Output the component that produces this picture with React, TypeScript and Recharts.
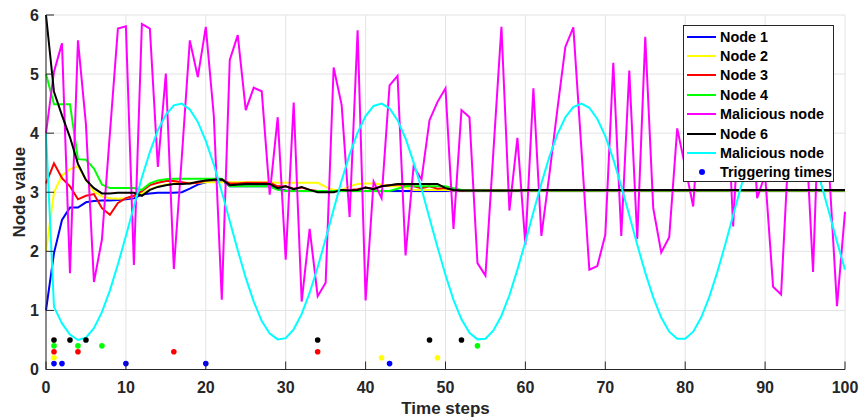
import React from "react";

//recharts
import {
  ComposedChart,
  Line,
  Scatter,
  XAxis,
  YAxis,
  CartesianGrid,
  Legend,
} from "recharts";

//data
const steps = Array.from({ length: 101 }, (_, i) => i);

const node1 = [
  1.0, 1.97, 2.53, 2.74, 2.74, 2.83, 2.85, 2.86, 2.86, 2.87,
  2.88, 2.9, 2.96, 2.98, 2.99, 2.99, 2.99, 3.0, 3.06, 3.13,
  3.17, 3.19, 3.2, 3.1, 3.1, 3.1, 3.1, 3.1, 3.1, 3.05,
  3.03, 3.02, 3.02, 3.02, 3.02, 3.02, 3.02, 3.02, 3.02, 3.02,
  3.02, 3.02, 3.02, 3.02, 3.02, 3.02, 3.02, 3.02, 3.02, 3.02,
  3.02, 3.02, 3.02, 3.02, 3.02, 3.02, 3.02, 3.02, 3.02, 3.02,
  3.02, 3.02, 3.02, 3.02, 3.02, 3.02, 3.02, 3.02, 3.02, 3.02,
  3.02, 3.02, 3.02, 3.02, 3.02, 3.02, 3.02, 3.02, 3.02, 3.02,
  3.02, 3.02, 3.02, 3.02, 3.02, 3.02, 3.02, 3.02, 3.02, 3.02,
  3.02, 3.02, 3.02, 3.02, 3.02, 3.02, 3.02, 3.02, 3.02, 3.02,
  3.02,
];

const node2 = [
  2.0, 3.0, 3.28, 3.39, 3.44, 3.21, 3.01, 2.93, 2.9, 2.89,
  2.9, 2.93, 2.98, 3.05, 3.1, 3.13, 3.15, 3.16, 3.16, 3.16,
  3.17, 3.17, 3.17, 3.17, 3.17, 3.17, 3.17, 3.17, 3.17, 3.16,
  3.16, 3.16, 3.16, 3.16, 3.16, 3.09, 3.04, 3.04, 3.1, 3.14,
  3.15, 3.15, 3.13, 3.1, 3.1, 3.08, 3.04, 3.04, 3.04, 3.04,
  3.04, 3.03, 3.03, 3.03, 3.03, 3.03, 3.03, 3.03, 3.03, 3.03,
  3.03, 3.03, 3.03, 3.03, 3.03, 3.03, 3.03, 3.03, 3.03, 3.03,
  3.03, 3.03, 3.03, 3.03, 3.03, 3.03, 3.03, 3.03, 3.03, 3.03,
  3.03, 3.03, 3.03, 3.03, 3.03, 3.03, 3.03, 3.03, 3.03, 3.03,
  3.03, 3.03, 3.03, 3.03, 3.03, 3.03, 3.03, 3.03, 3.03, 3.03,
  3.03,
];

const node3 = [
  3.15, 3.49, 3.24, 3.1, 2.88, 2.94, 2.97, 2.73, 2.62, 2.82,
  2.9, 2.94, 3.02, 3.12, 3.16, 3.19, 3.19, 3.17, 3.15, 3.16,
  3.2, 3.21, 3.22, 3.15, 3.15, 3.16, 3.16, 3.16, 3.16, 3.1,
  3.1, 3.06, 3.08, 3.04, 3.02, 3.01, 3.02, 3.03, 3.04, 3.05,
  3.08, 3.06, 3.1, 3.12, 3.13, 3.12, 3.1, 3.07, 3.1, 3.06,
  3.07, 3.04, 3.03, 3.03, 3.03, 3.03, 3.03, 3.03, 3.03, 3.03,
  3.03, 3.03, 3.03, 3.03, 3.03, 3.03, 3.03, 3.03, 3.03, 3.03,
  3.03, 3.03, 3.03, 3.03, 3.03, 3.03, 3.03, 3.03, 3.03, 3.03,
  3.03, 3.03, 3.03, 3.03, 3.03, 3.03, 3.03, 3.03, 3.03, 3.03,
  3.03, 3.03, 3.03, 3.03, 3.03, 3.03, 3.03, 3.03, 3.03, 3.03,
  3.03,
];

const node4 = [
  5.0, 4.49, 4.49, 4.49, 3.56, 3.55, 3.4, 3.13, 3.07, 3.07,
  3.07, 3.07, 3.04, 3.15, 3.2, 3.22, 3.23, 3.23, 3.23, 3.23,
  3.23, 3.23, 3.23, 3.1, 3.1, 3.1, 3.1, 3.1, 3.1, 3.04,
  3.02, 3.02, 3.02, 3.02, 3.02, 3.02, 3.02, 3.02, 3.02, 3.02,
  3.02, 3.02, 3.02, 3.02, 3.06, 3.1, 3.1, 3.1, 3.1, 3.1,
  3.1, 3.07, 3.04, 3.03, 3.03, 3.03, 3.03, 3.03, 3.03, 3.03,
  3.03, 3.03, 3.03, 3.03, 3.03, 3.03, 3.03, 3.03, 3.03, 3.03,
  3.03, 3.03, 3.03, 3.03, 3.03, 3.03, 3.03, 3.03, 3.03, 3.03,
  3.03, 3.03, 3.03, 3.03, 3.03, 3.03, 3.03, 3.03, 3.03, 3.03,
  3.03, 3.03, 3.03, 3.03, 3.03, 3.03, 3.03, 3.03, 3.03, 3.03,
  3.03,
];

const maliciousA = [
  4.0, 5.04, 5.52, 1.63, 5.57, 4.15, 1.48, 2.2, 4.0, 5.77,
  5.81, 1.77, 5.85, 5.77, 3.43, 5.01, 1.7, 3.6, 5.57, 4.95,
  5.8, 4.3, 1.18, 5.24, 5.66, 4.39, 4.77, 4.71, 2.96, 4.27,
  1.86, 4.52, 1.15, 2.38, 1.24, 1.47, 5.11, 4.48, 2.58, 5.74,
  1.17, 3.18, 2.9, 4.81, 4.97, 1.93, 3.43, 3.22, 4.22, 4.53,
  4.76, 2.38, 4.39, 4.27, 1.8, 1.59, 3.7, 5.8, 2.69, 3.92,
  2.11, 4.76, 2.26, 3.3, 4.4, 5.46, 5.79, 3.75, 1.69, 1.75,
  2.28, 5.19, 2.26, 5.06, 2.21, 5.63, 2.73, 1.98, 2.24, 4.08,
  3.43, 2.76, 4.8, 5.5, 4.2, 5.4, 2.42, 5.0, 5.3, 2.9,
  3.3, 1.4, 1.27, 3.9, 4.6, 4.3, 1.65, 5.5, 3.4, 1.07,
  2.67,
];

const node6 = [
  6.0, 4.7, 4.3, 3.93, 3.48, 3.21, 3.07, 2.98, 2.98, 2.99,
  2.99, 2.99, 2.94, 3.04, 3.09, 3.12, 3.14, 3.14, 3.15, 3.18,
  3.2, 3.21, 3.22, 3.12, 3.13, 3.14, 3.14, 3.14, 3.14, 3.07,
  3.1, 3.05, 3.09, 3.04, 3.0, 3.0, 3.0, 3.04, 3.03, 3.04,
  3.08, 3.05, 3.1, 3.12, 3.14, 3.14, 3.14, 3.14, 3.14, 3.14,
  3.07, 3.04, 3.03, 3.03, 3.03, 3.03, 3.03, 3.03, 3.03, 3.03,
  3.04, 3.04, 3.04, 3.04, 3.04, 3.04, 3.04, 3.04, 3.04, 3.04,
  3.04, 3.04, 3.04, 3.04, 3.04, 3.04, 3.04, 3.04, 3.04, 3.04,
  3.04, 3.04, 3.04, 3.04, 3.04, 3.04, 3.04, 3.04, 3.04, 3.04,
  3.04, 3.04, 3.04, 3.04, 3.04, 3.04, 3.04, 3.04, 3.04, 3.04,
  3.04,
];

const maliciousB = [
  4.0, 1.06, 0.78, 0.59, 0.5, 0.54, 0.7, 0.97, 1.34, 1.78,
  2.26, 2.76, 3.25, 3.68, 4.05, 4.31, 4.47, 4.5, 4.4, 4.19,
  3.87, 3.47, 3.01, 2.51, 2.02, 1.55, 1.15, 0.82, 0.61, 0.51,
  0.53, 0.68, 0.94, 1.3, 1.73, 2.21, 2.71, 3.2, 3.64, 4.01,
  4.29, 4.46, 4.5, 4.42, 4.22, 3.91, 3.51, 3.06, 2.56, 2.07,
  1.6, 1.18, 0.85, 0.62, 0.51, 0.52, 0.66, 0.91, 1.26, 1.69,
  2.16, 2.66, 3.15, 3.6, 3.98, 4.27, 4.44, 4.5, 4.43, 4.24,
  3.95, 3.56, 3.1, 2.61, 2.11, 1.64, 1.22, 0.88, 0.64, 0.52,
  0.52, 0.64, 0.88, 1.22, 1.64, 2.11, 2.61, 3.1, 3.56, 3.95,
  4.24, 4.43, 4.5, 4.44, 4.27, 3.98, 3.6, 3.15, 2.66, 2.16,
  1.69,
];

const trigger1 = [1, 2, 10, 20, 43];
const trigger2 = [1, 42, 49];
const trigger3 = [1, 4, 16, 34];
const trigger4 = [1, 4, 7, 54];
const trigger6 = [1, 3, 5, 34, 48, 52];
const triggerLevels = [0.1, 0.2, 0.3, 0.4, 0.5];

const xTicks = [0, 10, 20, 30, 40, 50, 60, 70, 80, 90, 100];
const yTicks = [0, 1, 2, 3, 4, 5, 6];

const seriesNames = ["Node 1", "Node 2", "Node 3", "Node 4", "Malicious node", "Node 6", "Malicious node"];
const seriesColors = ["#0000ff", "#ffff00", "#ff0000", "#00ff00", "#ff00ff", "#000000", "#00ffff"];
const seriesValues = [node1, node2, node3, node4, maliciousA, node6, maliciousB];
const triggerName = "Triggering times";
const triggerTimes = [trigger1, trigger2, trigger3, trigger4, trigger6];
const triggerColors = ["#0000ff", "#ffff00", "#ff0000", "#00ff00", "#000000"];

const data = steps.map((t, i) => {
  const row: Record<string, number> = { t };
  seriesValues.forEach((vals, k) => {
    row["s" + k] = vals[i];
  });
  return row;
});

const triggerData = triggerTimes.map((times, k) =>
  times.map((t) => ({ t, level: triggerLevels[k] }))
);

//styles
const AXIS = "#262626";
const FONT = "'Liberation Sans', Arial, Helvetica, sans-serif";

const BottomTick = (props: any) => {
  const { x, y, payload } = props;
  return (
    <g>
      <line x1={x} y1={y} x2={x} y2={y - 8} stroke={AXIS} />
      <text x={x} y={y + 23.5} textAnchor="middle" fontSize={16} fontWeight="bold" fontFamily={FONT} fill={AXIS}>
        {payload.value}
      </text>
    </g>
  );
};

const TopTick = (props: any) => {
  const { x, y } = props;
  return <line x1={x} y1={y} x2={x} y2={y + 8} stroke={AXIS} />;
};

const LeftTick = (props: any) => {
  const { x, y, payload } = props;
  return (
    <g>
      <line x1={x} y1={y} x2={x + 8} y2={y} stroke={AXIS} />
      <text x={x - 7} y={y + 5.5} textAnchor="end" fontSize={16} fontWeight="bold" fontFamily={FONT} fill={AXIS}>
        {payload.value}
      </text>
    </g>
  );
};

const RightTick = (props: any) => {
  const { x, y } = props;
  return <line x1={x} y1={y} x2={x - 8} y2={y} stroke={AXIS} />;
};

const XTitle = (props: any) => {
  const { x, y, width } = props.viewBox;
  return (
    <text x={x + width / 2} y={y + 44.5} textAnchor="middle" fontSize={17} fontWeight="bold" fontFamily={FONT} fill={AXIS}>
      Time steps
    </text>
  );
};

const YTitle = (props: any) => {
  const { y, height } = props.viewBox;
  const cx = 25;
  const cy = y + height / 2;
  return (
    <text x={cx} y={cy} transform={`rotate(-90, ${cx}, ${cy})`} textAnchor="middle" fontSize={17} fontWeight="bold" fontFamily={FONT} fill={AXIS}>
      Node value
    </text>
  );
};

const renderLegend = () => (
  <div
    style={{
      width: 151,
      height: 157,
      boxSizing: "border-box",
      border: "1px solid #262626",
      background: "#fff",
      paddingTop: 1,
      fontFamily: FONT,
      fontWeight: "bold",
      fontSize: 14.4,
      color: "#000",
    }}
  >
    {[...seriesNames, triggerName].map((name, i) => (
      <div key={i} style={{ display: "flex", alignItems: "center", height: 19.4, whiteSpace: "nowrap" }}>
        <span style={{ width: 29, marginLeft: 3, marginRight: 4, display: "flex", justifyContent: "center" }}>
          {i < seriesNames.length ? (
            <span style={{ width: 29, height: 2, background: seriesColors[i] }} />
          ) : (
            <span style={{ width: 6, height: 6, borderRadius: 3, background: triggerColors[0] }} />
          )}
        </span>
        <span>{name}</span>
      </div>
    ))}
  </div>
);

const App = () => {
  return (
    <div style={{ position: "absolute", left: 0, top: 0, background: "#fff" }}>
      <ComposedChart width={860} height={420} data={data} margin={{ top: 15, right: 15, bottom: 0, left: 0 }}>
        <CartesianGrid stroke="#e3e3e3" strokeWidth={1} />
        <XAxis
          dataKey="t"
          type="number"
          domain={[0, 100]}
          ticks={xTicks}
          interval={0}
          height={50.5}
          tickSize={0}
          tickMargin={0}
          tick={<BottomTick />}
          axisLine={{ stroke: AXIS }}
          label={<XTitle />}
        />
        <XAxis
          xAxisId="top"
          dataKey="t"
          type="number"
          orientation="top"
          domain={[0, 100]}
          ticks={xTicks}
          interval={0}
          height={0}
          tickSize={0}
          tickMargin={0}
          tick={<TopTick />}
          axisLine={{ stroke: AXIS }}
        />
        <YAxis
          type="number"
          domain={[0, 6]}
          ticks={yTicks}
          interval={0}
          width={46}
          tickSize={0}
          tickMargin={0}
          tick={<LeftTick />}
          axisLine={{ stroke: AXIS }}
          label={<YTitle />}
        />
        <YAxis
          yAxisId="right"
          type="number"
          orientation="right"
          domain={[0, 6]}
          ticks={yTicks}
          interval={0}
          width={0}
          tickSize={0}
          tickMargin={0}
          tick={<RightTick />}
          axisLine={{ stroke: AXIS }}
        />
        {seriesValues.map((_, k) => (
          <Line
            key={k}
            type="linear"
            dataKey={"s" + k}
            name={seriesNames[k]}
            stroke={seriesColors[k]}
            strokeWidth={2}
            dot={false}
            isAnimationActive={false}
          />
        ))}
        {triggerData.map((pts, k) => (
          <Scatter
            key={"trig" + k}
            data={pts}
            dataKey="level"
            name={triggerName}
            fill={triggerColors[k]}
            isAnimationActive={false}
            shape={(p: any) => <circle cx={p.cx} cy={p.cy} r={2.8} fill={triggerColors[k]} />}
          />
        ))}
        <Legend
          layout="vertical"
          align="center"
          verticalAlign="middle"
          wrapperStyle={{ left: 683, top: 25, width: 151, height: 157 }}
          content={renderLegend}
        />
      </ComposedChart>
    </div>
  );
};

export default App;
